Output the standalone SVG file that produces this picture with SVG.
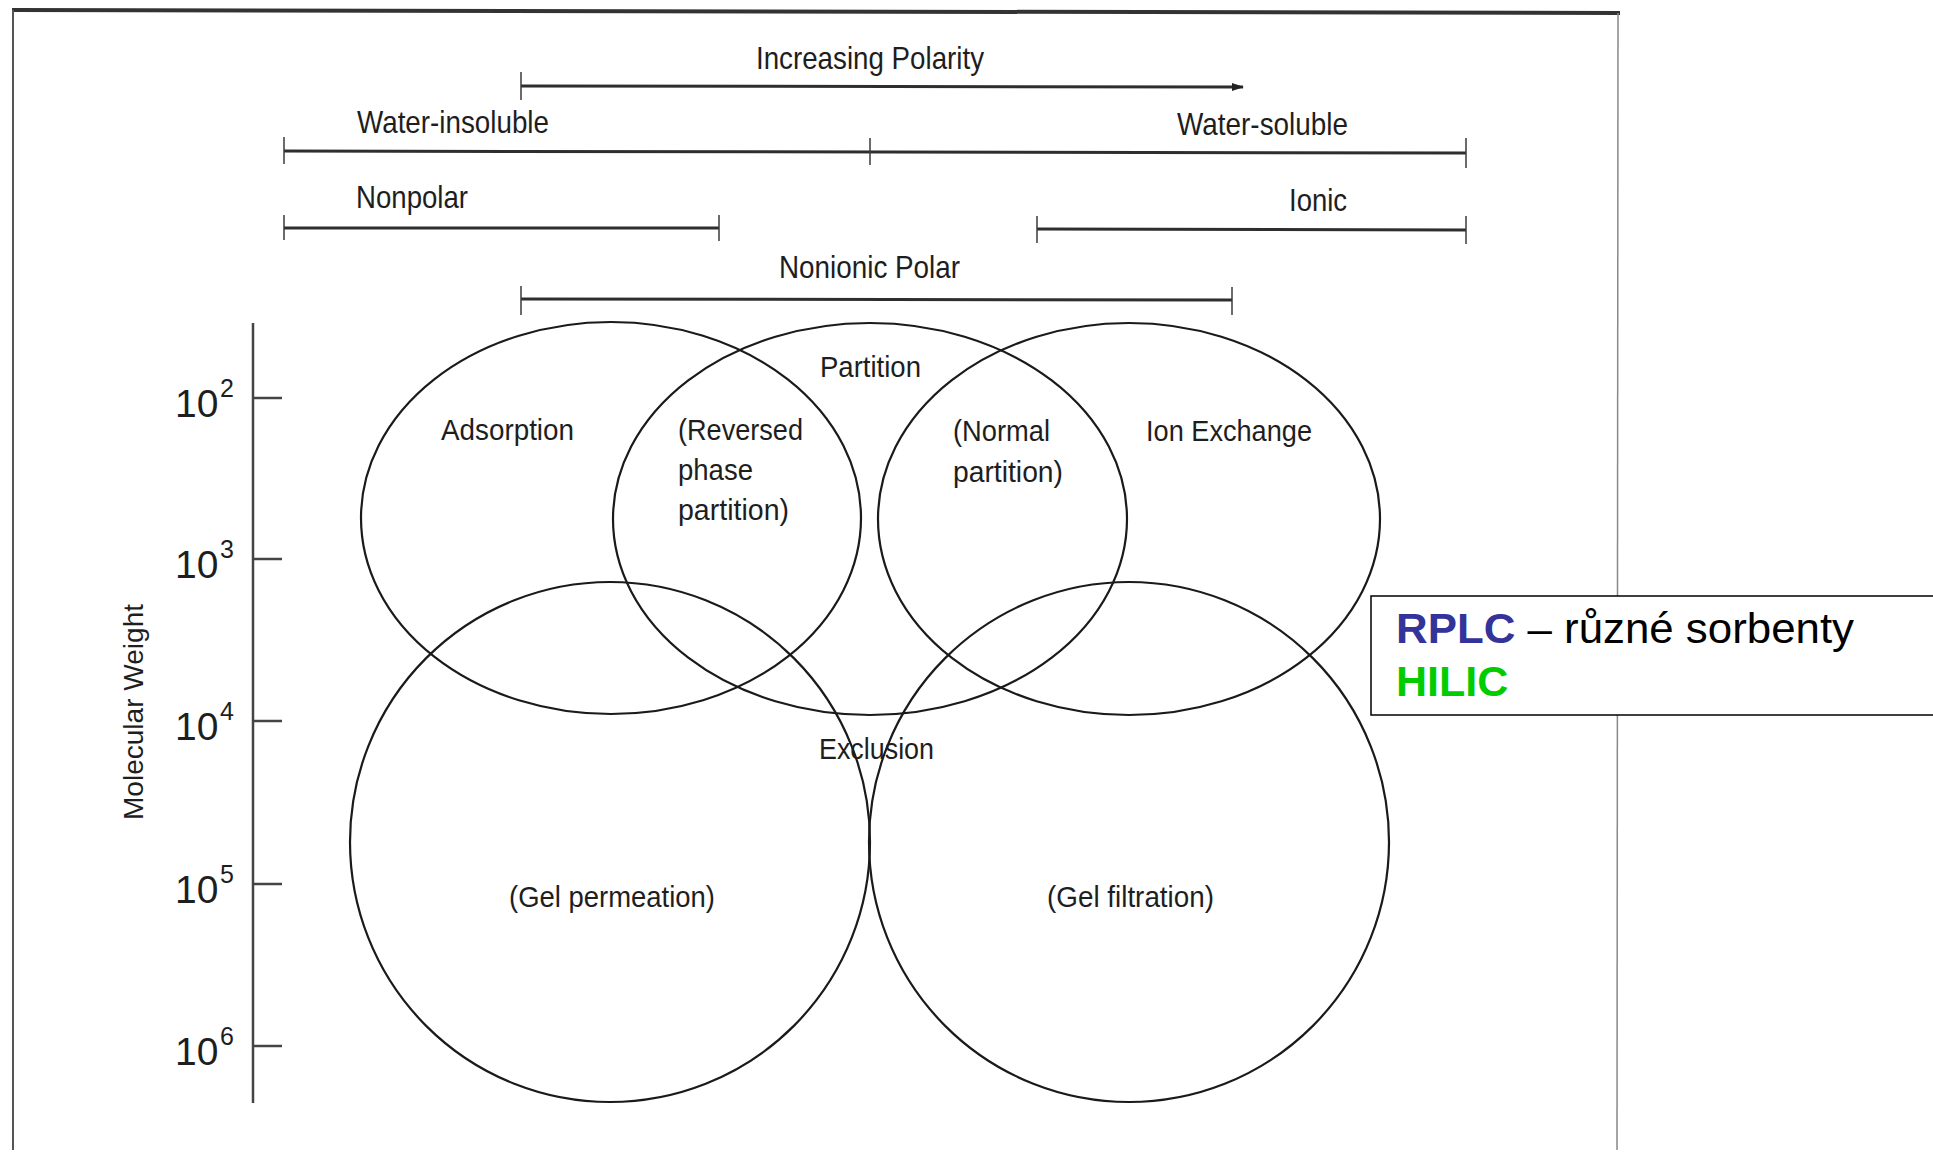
<svg xmlns="http://www.w3.org/2000/svg" width="1933" height="1152" viewBox="0 0 1933 1152">
<defs>
<style>
.t{font-family:"Liberation Sans",Arial,sans-serif;fill:#1e1e1e;}
.lab{font-size:32px;}
.in{font-size:29px;}
.ax{font-size:39px;}
.sup{font-size:25px;}
.rng{stroke:#2e2e2e;stroke-width:3;fill:none;}
.tick{stroke:#3a3a3a;stroke-width:1.5;fill:none;}
.ell{stroke:#1a1a1a;stroke-width:2.2;fill:none;}
.axl{stroke:#444;stroke-width:2.5;fill:none;}
</style>
<marker id="ah" markerWidth="12" markerHeight="10" refX="11" refY="5" orient="auto" markerUnits="userSpaceOnUse">
<path d="M0,1 L12,5 L0,9 Z" fill="#222"/>
</marker>
<linearGradient id="bot" x1="0" y1="0" x2="1" y2="0">
<stop offset="0" stop-color="#333"/>
<stop offset="0.45" stop-color="#777"/>
<stop offset="1" stop-color="#eee"/>
</linearGradient>
</defs>
<rect x="0" y="0" width="1933" height="1152" fill="#ffffff"/>
<g id="frame">
<line x1="12" y1="10" x2="1620" y2="13" stroke="#333" stroke-width="4"/>
<line x1="13" y1="10" x2="13" y2="1150" stroke="#555" stroke-width="2"/>
<line x1="1618" y1="13" x2="1617" y2="1150" stroke="#888" stroke-width="1.5"/>
<line x1="12" y1="1149" x2="740" y2="1149" stroke="url(#bot)" stroke-width="4"/>
</g>
<g id="connectors">
<line class="rng" x1="521" y1="86" x2="1243" y2="87" marker-end="url(#ah)"/>
<line class="tick" x1="521" y1="72" x2="521" y2="100"/>
<line class="rng" x1="284" y1="151" x2="1466" y2="153"/>
<line class="tick" x1="284" y1="137" x2="284" y2="164"/>
<line class="tick" x1="870" y1="138" x2="870" y2="165"/>
<line class="tick" x1="1466" y1="138" x2="1466" y2="168"/>
<line class="rng" x1="284" y1="228" x2="719" y2="228"/>
<line class="tick" x1="284" y1="215" x2="284" y2="240"/>
<line class="tick" x1="719" y1="215" x2="719" y2="241"/>
<line class="rng" x1="1037" y1="229" x2="1466" y2="230"/>
<line class="tick" x1="1037" y1="216" x2="1037" y2="243"/>
<line class="tick" x1="1466" y1="216" x2="1466" y2="244"/>
<line class="rng" x1="521" y1="299" x2="1232" y2="300"/>
<line class="tick" x1="521" y1="286" x2="521" y2="315"/>
<line class="tick" x1="1232" y1="287" x2="1232" y2="315"/>
</g>
<g id="range-labels">
<text class="t lab" x="756" y="69" textLength="228" lengthAdjust="spacingAndGlyphs">Increasing Polarity</text>
<text class="t lab" x="357" y="133" textLength="192" lengthAdjust="spacingAndGlyphs">Water-insoluble</text>
<text class="t lab" x="1177" y="135" textLength="171" lengthAdjust="spacingAndGlyphs">Water-soluble</text>
<text class="t lab" x="356" y="208" textLength="112" lengthAdjust="spacingAndGlyphs">Nonpolar</text>
<text class="t lab" x="1289" y="211" textLength="58" lengthAdjust="spacingAndGlyphs">Ionic</text>
<text class="t lab" x="779" y="278" textLength="181" lengthAdjust="spacingAndGlyphs">Nonionic Polar</text>
</g>
<g id="axis">
<line class="axl" x1="253" y1="323" x2="253" y2="1103"/>
<line class="axl" x1="253" y1="398" x2="282" y2="398"/>
<line class="axl" x1="253" y1="559" x2="282" y2="559"/>
<line class="axl" x1="253" y1="721" x2="282" y2="721"/>
<line class="axl" x1="253" y1="884" x2="282" y2="884"/>
<line class="axl" x1="253" y1="1046" x2="282" y2="1046"/>
<text class="t ax" x="175" y="417">10<tspan class="sup" x="220" y="397">2</tspan></text>
<text class="t ax" x="175" y="578">10<tspan class="sup" x="220" y="558">3</tspan></text>
<text class="t ax" x="175" y="740">10<tspan class="sup" x="220" y="720">4</tspan></text>
<text class="t ax" x="175" y="903">10<tspan class="sup" x="220" y="883">5</tspan></text>
<text class="t ax" x="175" y="1065">10<tspan class="sup" x="220" y="1045">6</tspan></text>
<text class="t" font-size="28" transform="translate(143,820) rotate(-90)" textLength="216" lengthAdjust="spacingAndGlyphs">Molecular Weight</text>
</g>
<g id="adsorption">
<ellipse class="ell" cx="611" cy="518" rx="250" ry="196"/>
<text class="t in" x="441" y="440" textLength="133" lengthAdjust="spacingAndGlyphs">Adsorption</text>
</g>
<g id="partition">
<ellipse class="ell" cx="870" cy="519" rx="257" ry="196"/>
<text class="t in" x="820" y="377" textLength="101" lengthAdjust="spacingAndGlyphs">Partition</text>
<text class="t in" x="678" y="440" textLength="125" lengthAdjust="spacingAndGlyphs">(Reversed</text>
<text class="t in" x="678" y="480" textLength="75" lengthAdjust="spacingAndGlyphs">phase</text>
<text class="t in" x="678" y="520" textLength="111" lengthAdjust="spacingAndGlyphs">partition)</text>
<text class="t in" x="953" y="441" textLength="97" lengthAdjust="spacingAndGlyphs">(Normal</text>
<text class="t in" x="953" y="482" textLength="110" lengthAdjust="spacingAndGlyphs">partition)</text>
</g>
<g id="ion-exchange">
<ellipse class="ell" cx="1129" cy="519" rx="251" ry="196"/>
<text class="t in" x="1146" y="441" textLength="166" lengthAdjust="spacingAndGlyphs">Ion Exchange</text>
</g>
<g id="gel-permeation">
<ellipse class="ell" cx="610" cy="842" rx="260" ry="260"/>
<text class="t in" x="509" y="907" textLength="206" lengthAdjust="spacingAndGlyphs">(Gel permeation)</text>
</g>
<g id="gel-filtration">
<ellipse class="ell" cx="1129" cy="842" rx="260" ry="260"/>
<text class="t in" x="1047" y="907" textLength="167" lengthAdjust="spacingAndGlyphs">(Gel filtration)</text>
</g>
<g id="exclusion">
<text class="t in" x="819" y="759" textLength="115" lengthAdjust="spacingAndGlyphs">Exclusion</text>
</g>
<g id="note-box">
<rect x="1371" y="596" width="580" height="119" fill="#ffffff" stroke="#000" stroke-width="1.5"/>
<text x="1396" y="643" font-family="Liberation Sans,Arial,sans-serif" font-size="43" textLength="458" lengthAdjust="spacingAndGlyphs"><tspan font-weight="bold" fill="#333399">RPLC</tspan><tspan fill="#000"> – různé sorbenty</tspan></text>
<text x="1396" y="696" font-family="Liberation Sans,Arial,sans-serif" font-size="43" font-weight="bold" fill="#00cc00">HILIC</text>
</g>
</svg>
